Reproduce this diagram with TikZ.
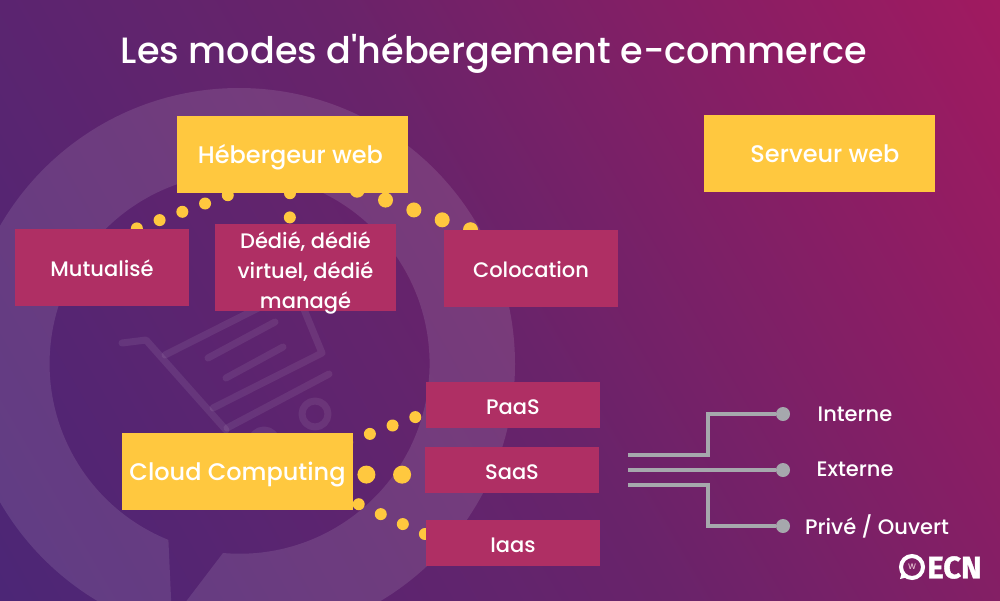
\documentclass[tikz,border=0pt]{standalone}
\usepackage{fontspec}
\usetikzlibrary{calc}
\newfontfamily\mont{Poppins Medium}
\newfontfamily\logofont{Fira Sans}[FakeBold=1.2]
\definecolor{bgA}{HTML}{4C2676}
\definecolor{bgM}{HTML}{69236A}
\definecolor{bgB}{HTML}{A01A60}
\definecolor{yel}{HTML}{FFC83F}
\definecolor{cri}{HTML}{AF2F64}
\definecolor{gry}{HTML}{A6A8AD}
\pgfdeclarelayer{bglayer}
\pgfdeclarelayer{connlayer}
\pgfsetlayers{bglayer,connlayer,main}
\tikzset{
  yellowbox/.style={fill=yel,text=white,inner sep=0pt,minimum width=231pt,minimum height=77pt,text height=20pt,text depth=2pt,font=\mont\fontsize{24}{26}\selectfont},
  crimbox/.style={fill=cri,text=white,inner sep=0pt,minimum width=174pt,align=center,font=\mont\fontsize{21}{30}\selectfont},
  crimone/.style={crimbox,text height=18pt,text depth=0pt},
  label/.style={text=white,inner sep=0pt,text height=16pt,text depth=1pt,font=\mont\fontsize{21}{24}\selectfont},
  enddot/.style={circle,fill=gry,inner sep=0pt,minimum size=14pt},
  glink/.style={draw=gry,line width=3.2pt},
  dotsS/.style={draw=yel,line width=12pt,line cap=round,dash pattern=on 0pt off 24.2pt},
  dotsM/.style={draw=yel,line width=15pt,line cap=round,dash pattern=on 0pt off 30pt},
  dotsL/.style={draw=yel,line width=18pt,line cap=round,dash pattern=on 0pt off 35.7pt},
  cart/.style={draw=white,draw opacity=.08,line width=7pt,line cap=round,line join=round}
}
\begin{document}
\begin{tikzpicture}[x=1pt,y=-1pt]
\useasboundingbox (0,0) rectangle (1000,600);
\begin{pgfonlayer}{bglayer}
\begin{scope}
\clip (0,0) rectangle (1000,600);
\shade[top color=bgB,bottom color=bgA,middle color=bgM,shading angle=-60] (-83,-283) rectangle (1083,883);
\fill[white,fill opacity=.11,even odd rule]
  (239,364) circle[radius=276pt]
  (223,553) arc[start angle=265,end angle=608,radius=190pt]
  -- (172,620) -- cycle;
\draw[cart] (122,343) -- (146,340) -- (226,430);
\draw[cart] (165,355) -- (290,292);
\draw[cart] (296,290) -- (322,353) -- (213,408);
\draw[cart] (208,358) -- (275,322);
\draw[cart] (226,378) -- (283,347);
\draw[cart] (227,428) -- (329,374);
\draw[cart] (315,414) circle[radius=13pt];
\draw[cart] (264,443) circle[radius=13pt];
\end{scope}
\end{pgfonlayer}

\node[text=white,inner sep=0pt,text height=30pt,text depth=4pt,font=\mont\fontsize{36.6}{42}\selectfont] (title) at (494,50.5) {Les modes d'hébergement e-commerce};

\node[yellowbox] (heb) at (292.5,154.5) {\hspace{-4pt}Hébergeur web};
\node[yellowbox] (srv) at (819.5,153.5) {\hspace{11pt}Serveur web};
\node[yellowbox] (cloud) at (237.5,471.5) {Cloud Computing};

\node[crimone,minimum height=77pt] (mut) at (102,267.5) {Mutualisé};
\node[crimbox,minimum width=181pt,minimum height=87pt] (ded) at (305.5,267.5) {\rule{0pt}{21pt}Dédié, dédié\\virtuel, dédié\\\smash{managé}};
\node[crimone,minimum height=77pt] (col) at (531,268.5) {Colocation};
\node[crimone,minimum height=46pt] (paas) at (513,405) {PaaS};
\node[crimone,minimum height=46pt] (saas) at (512,470) {SaaS};
\node[crimone,minimum height=46pt] (iaas) at (513,543) {Iaas};

\begin{pgfonlayer}{connlayer}
\draw[dotsS] ($(heb.south west)+(51,2)$) -- ($(mut.north west)+(121,0)$);
\draw[dotsS] ($(heb.south)+(-2.5,0)$) -- ($(ded.north west)+(75,0)$);
\draw[dotsM] ($(heb.south east)+(-51,-3)$) -- ($(col.north west)+(27,0)$);
\draw[dotsS] ($(cloud.north east)+(-6,9.5)$) -- ($(paas.south west)+(0,-15)$);
\draw[dotsL] ($(cloud.east)+(-22.5,3)$) -- ($(saas.west)+(0,4.7)$);
\draw[dotsS] ($(cloud.south east)+(5.5,-6)$) -- ($(iaas.north west)+(2,15.5)$);
\end{pgfonlayer}

\node[enddot] (d1) at (783,414) {};
\node[enddot] (d2) at (783,470) {};
\node[enddot] (d3) at (783,526) {};
\coordinate (s1) at (628,455);
\coordinate (s2) at (628,470);
\coordinate (s3) at (628,485);
\draw[glink] (s1) -- (708,455) -- (708,414) -- (d1);
\draw[glink] (s2) -- (d2);
\draw[glink] (s3) -- (708,485) -- (708,526) -- (d3);

\node[label] (l1) at (855,414) {Interne};
\node[label] (l2) at (855,469) {Externe};
\node[label] (l3) at (877,527) {Privé / Ouvert};

% logo
\draw[white,line width=4pt] (912,567) circle[radius=11pt];
\fill[white] (902,572) -- (900,579) -- (908,577) -- cycle;
\node[text=white!70!cri,inner sep=0pt,font=\mont\fontsize{8}{8}\selectfont] (logow) at (912,567) {W};
\node[text=white,inner sep=0pt,font=\logofont\bfseries\fontsize{31}{30}\selectfont] (logo) at (954.5,567.5) {ECN};
\end{tikzpicture}
\end{document}
